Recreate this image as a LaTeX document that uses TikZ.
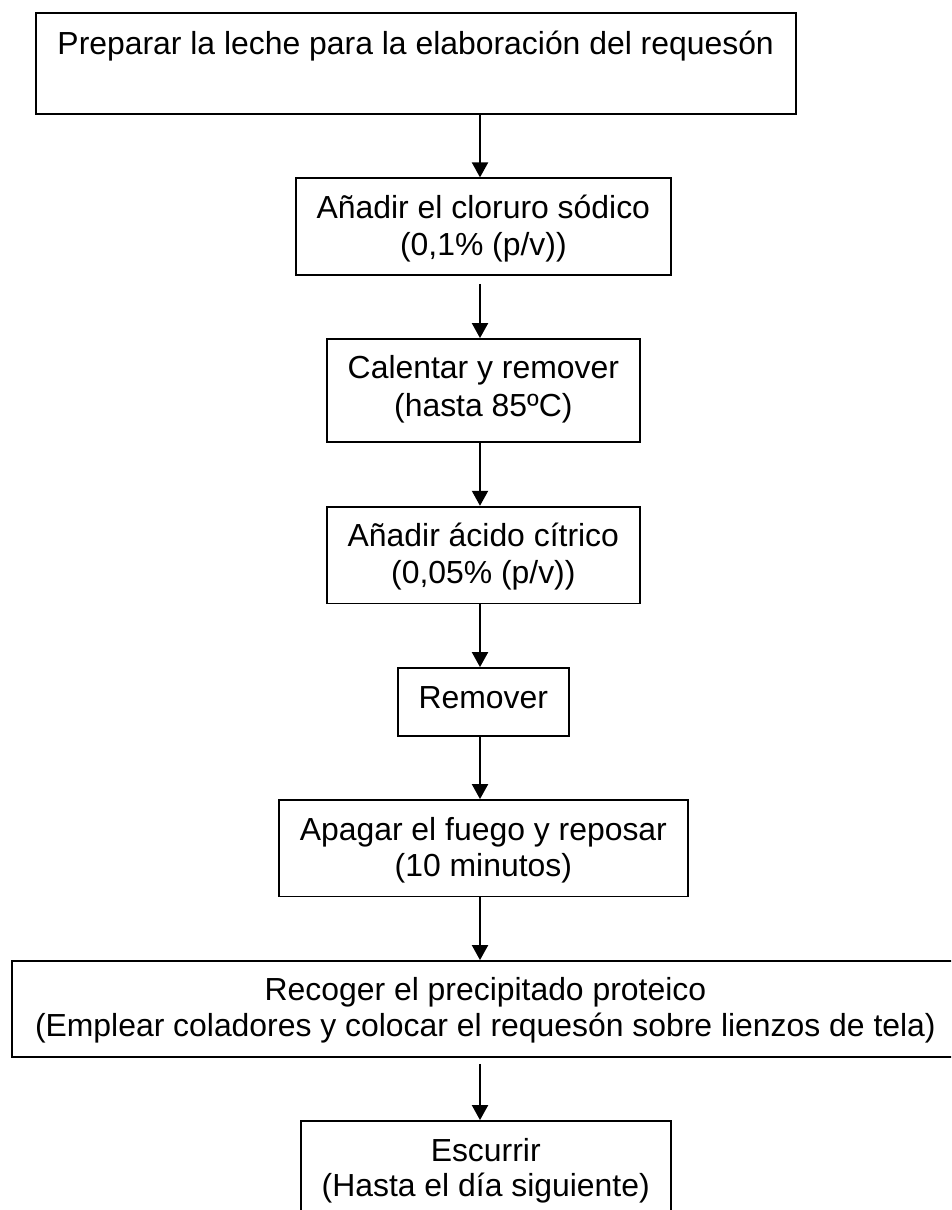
\documentclass[tikz,border=0pt]{standalone}
\usepackage{fontspec}
\setmainfont{Liberation Sans}
\usetikzlibrary{arrows.meta}
\begin{document}
\begin{tikzpicture}[x=1pt,y=-1pt,
  box/.style={draw=black, line width=1.8pt, inner sep=0pt, fill=none},
  lbl/.style={anchor=base, inner sep=0pt, font=\fontsize{31.9}{38}\selectfont},
  flow/.style={draw=black, line width=2pt, -{Triangle[width=16pt,length=15pt]}}]
\clip (0,0) rectangle (951,1210);
\fill[white] (0,0) rectangle (951,1210);
\coordinate (axis) at (480,0);
% boxes
\node[box, minimum width=760pt,   minimum height=101pt]   (b1) at (415.7,63.8) {};
\node[box, minimum width=375.3pt, minimum height=96.7pt]  (b2) at (483.35,226.65) {};
\node[box, minimum width=313.3pt, minimum height=102.7pt] (b3) at (483.35,390.35) {};
\node[box, minimum width=313.3pt, minimum height=96.8pt]  (b4) at (483.35,555.1) {};
\node[box, minimum width=171.3pt, minimum height=67.7pt]  (b5) at (483.35,701.85) {};
\node[box, minimum width=409.3pt, minimum height=96.5pt]  (b6) at (483.35,848.25) {};
\node[box, minimum width=946.2pt, minimum height=96pt]    (b7) at (485.4,1009) {};
\node[box, minimum width=370pt,   minimum height=179pt]   (b8) at (485.7,1210.5) {};
% texts
\node[lbl] (t1)  at (415.7,54)    {Preparar la leche para la elaboración del requesón};
\node[lbl] (t2a) at (483.35,218)  {Añadir el cloruro sódico};
\node[lbl] (t2b) at (483.35,255)  {(0,1\% (p/v))};
\node[lbl] (t3a) at (483.35,378)  {Calentar y remover};
\node[lbl] (t3b) at (483.35,416)  {(hasta 85ºC)};
\node[lbl] (t4a) at (483.35,546.7) {Añadir ácido cítrico};
\node[lbl] (t4b) at (483.35,583.2) {(0,05\% (p/v))};
\node[lbl] (t5)  at (483.35,708)  {Remover};
\node[lbl] (t6a) at (483.35,840)  {Apagar el fuego y reposar};
\node[lbl] (t6b) at (483.35,876.7) {(10 minutos)};
\node[lbl] (t7a) at (485.4,1000)  {Recoger el precipitado proteico};
\node[lbl] (t7b) at (485.4,1036.7) {(Emplear coladores y colocar el requesón sobre lienzos de tela)};
\node[lbl] (t8a) at (485.7,1161.7) {Escurrir};
\node[lbl] (t8b) at (485.7,1196.7) {(Hasta el día siguiente)};
% connectors
\draw[flow] (b1.south -| axis) -- (b2.north -| axis);
\draw[flow, shorten <=8pt] (b2.south -| axis) -- (b3.north -| axis);
\draw[flow] (b3.south -| axis) -- (b4.north -| axis);
\draw[flow] (b4.south -| axis) -- (b5.north -| axis);
\draw[flow] (b5.south -| axis) -- (b6.north -| axis);
\draw[flow] (b6.south -| axis) -- (b7.north -| axis);
\draw[flow, shorten <=6pt] (b7.south -| axis) -- (b8.north -| axis);
\end{tikzpicture}
\end{document}
